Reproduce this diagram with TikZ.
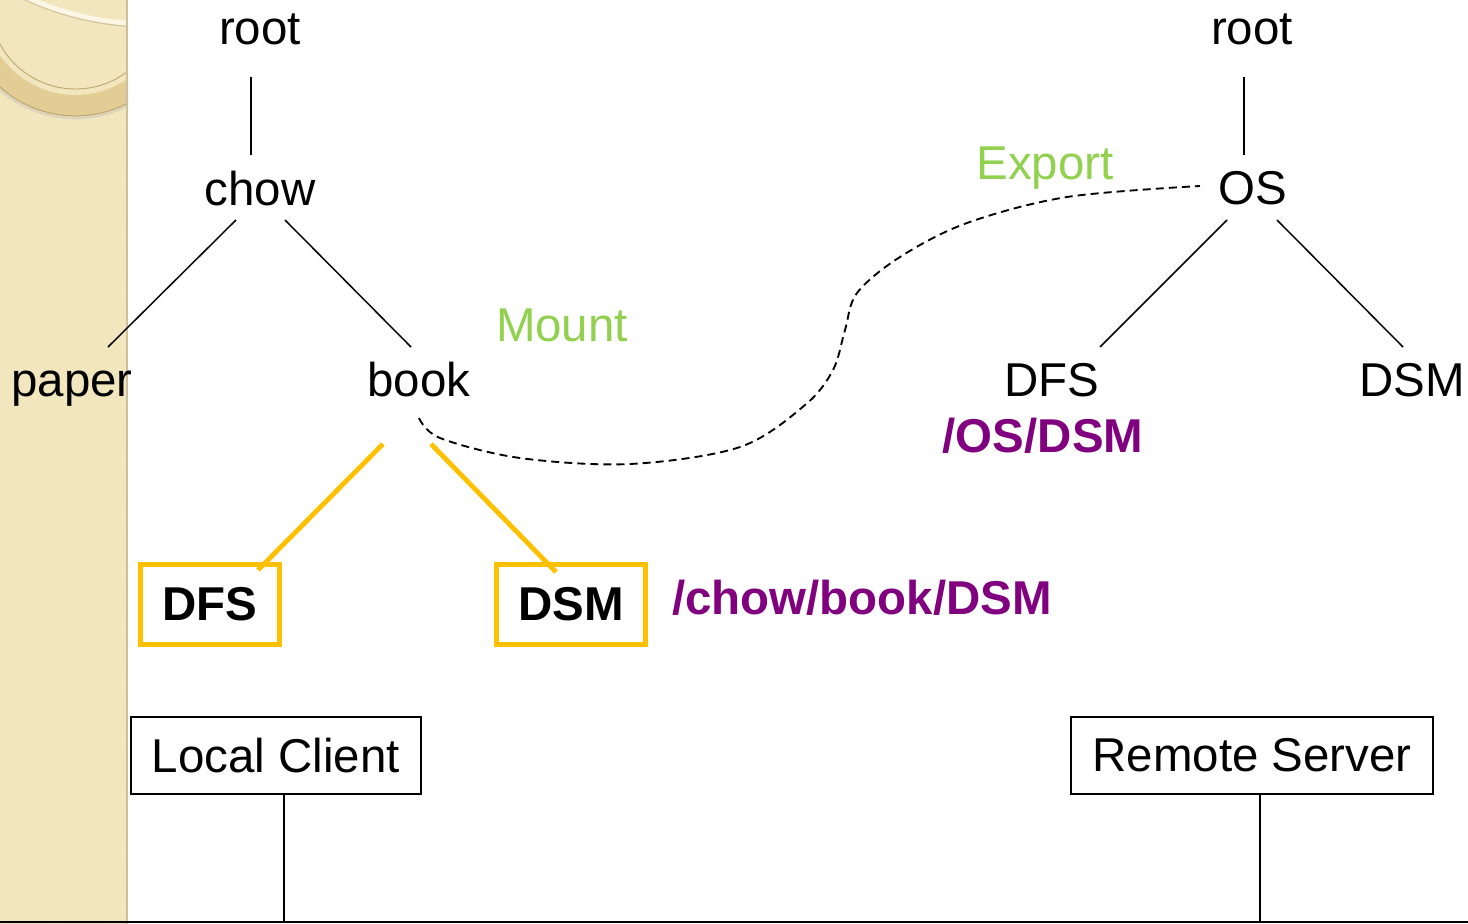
\documentclass[tikz,border=0pt]{standalone}
\usepackage{fontspec}
\setmainfont{Liberation Sans}
\usetikzlibrary{calc}
\definecolor{stripbg}{RGB}{240,227,180}
\definecolor{ringband}{RGB}{226,205,148}
\definecolor{ringline}{RGB}{190,170,115}
\definecolor{creamarc}{RGB}{252,247,228}
\definecolor{stripedge}{RGB}{205,192,155}
\definecolor{mountgreen}{RGB}{146,208,80}
\definecolor{pathpurple}{RGB}{128,0,128}
\definecolor{linkorange}{RGB}{255,192,0}
\begin{document}
\begin{tikzpicture}[x=0.75pt,y=-0.75pt,
  lbl/.style={inner sep=0pt,anchor=base,font=\fontsize{35.6pt}{42pt}\selectfont},
  green label/.style={lbl,text=mountgreen},
  path label/.style={lbl,text=pathpurple,font=\fontsize{35.6pt}{42pt}\selectfont\bfseries},
  mounted/.style={draw=linkorange,line width=3.6pt,inner sep=0pt,
    font=\fontsize{35.6pt}{42pt}\selectfont\bfseries,minimum height=60pt},
  hostbox/.style={draw=black,line width=1.4pt,inner sep=0pt,fill=white,
    font=\fontsize{35.6pt}{42pt}\selectfont,minimum height=57.75pt},
  treeedge/.style={line width=1.1pt},
  orangeedge/.style={draw=linkorange,line width=3.6pt},
  linkcurve/.style={line width=1.4pt,dash pattern=on 6pt off 3.8pt},
  wire/.style={line width=1.9pt}]

\useasboundingbox (0,0) rectangle (1468,924);
\fill[white] (0,0) rectangle (1468,924);

% decorative side strip
\begin{scope}
  \clip (0,0) rectangle (128,924);
  \fill[stripbg] (0,0) rectangle (128,924);
  \foreach \k in {-30,...,160} {
    \draw[white,opacity=0.10,line width=2.5pt] (-20,{7*\k-120}) -- (160,{7*\k+60});
    \draw[white,opacity=0.10,line width=2.5pt] (-20,{7*\k+60}) -- (160,{7*\k-120});
  }
  \fill[ringband,even odd rule] (75.5,3) circle[radius=113] (75.5,3) circle[radius=92];
  \draw[ringline,line width=1pt] (75.5,3) circle[radius=113];
  \draw[ringline!50,line width=2pt] (75.5,3) circle[radius=115];
  \draw[ringline,line width=0.7pt] (75.5,3) circle[radius=86];
  \draw[ringline!70,line width=1pt] (150,-273) circle[radius=300];
  \draw[creamarc,line width=3.6pt] (150,-273) circle[radius=297];
  \draw[stripedge,line width=1.5pt] (127,0) -- (127,924);
\end{scope}

% local tree
\node[lbl] (rootL) at (260,45) {root};
\node[lbl] (chow) at (260,205) {chow};
\node[lbl] (paper) at (72,396) {paper};
\node[lbl] (book) at (419,396) {book};
\node[green label] (mount) at (562,341) {Mount};
\node[mounted,minimum width=104.25pt] (dfsL) at (210,604.5) {DFS};
\node[mounted,minimum width=111.75pt] (dsmL) at (571,604.5) {DSM};
\node[path label] (pathL) at (862,614) {/chow/book/DSM};

% remote tree
\node[lbl] (rootR) at (1252,45) {root};
\node[lbl] (os) at (1253,204) {OS};
\node[green label] (export) at (1045,180) {Export};
\node[lbl] (dfsR) at (1052,396) {DFS};
\node[lbl] (dsmR) at (1412,396) {DSM};
\node[path label] (pathR) at (1043,452) {/OS/DSM};

% hosts
\node[hostbox,minimum width=217.5pt] (local) at (276,755.5) {Local Client};
\node[hostbox,minimum width=271.5pt] (remote) at (1252,755.5) {Remote Server};
\coordinate (busW) at (0,922);
\coordinate (busE) at (1468,922);
\coordinate (localTap) at ($(local.south)+(8,0)$);
\coordinate (remoteTap) at ($(remote.south)+(8,0)$);

% tree edges
\draw[treeedge] ($(rootL.base)+(-9,32)$) -- ($(chow.base)+(-9,-50)$);
\draw[treeedge] ($(chow.base)+(-24,15)$) -- ($(paper.base)+(36,-49)$);
\draw[treeedge] ($(chow.base)+(25,15)$) -- ($(book.base)+(-8,-49)$);
\draw[treeedge] ($(rootR.base)+(-8,32)$) -- ($(os.base)+(-9,-49)$);
\draw[treeedge] ($(os.base)+(-26,16)$) -- ($(dfsR.base)+(48,-49)$);
\draw[treeedge] ($(os.base)+(24,16)$) -- ($(dsmR.base)+(-9,-49)$);

% mounted subtree
\draw[orangeedge] ($(book.base)+(-36,48)$) -- ($(dfsL.center)+(48,-34.5)$);
\draw[orangeedge] ($(book.base)+(12,48)$) -- ($(dsmL.center)+(-15,-32.5)$);

% mount / export link
\coordinate (mstart) at ($(book.base)+(0,22)$);
\coordinate (xend) at ($(os.base)+(-53,-18)$);
\draw[linkcurve] plot[smooth,tension=0.55] coordinates
  {(mstart) (440,438) (520,458) (630,464) (740,447) (805,405) (833,370)
   (845,330) (857,293) (900,257) (967,223) (1067,197) (xend)};

% host wiring
\draw[wire] (busW) -- (busE);
\draw[wire] (localTap) -- (localTap |- busW);
\draw[wire] (remoteTap) -- (remoteTap |- busE);
\end{tikzpicture}
\end{document}
